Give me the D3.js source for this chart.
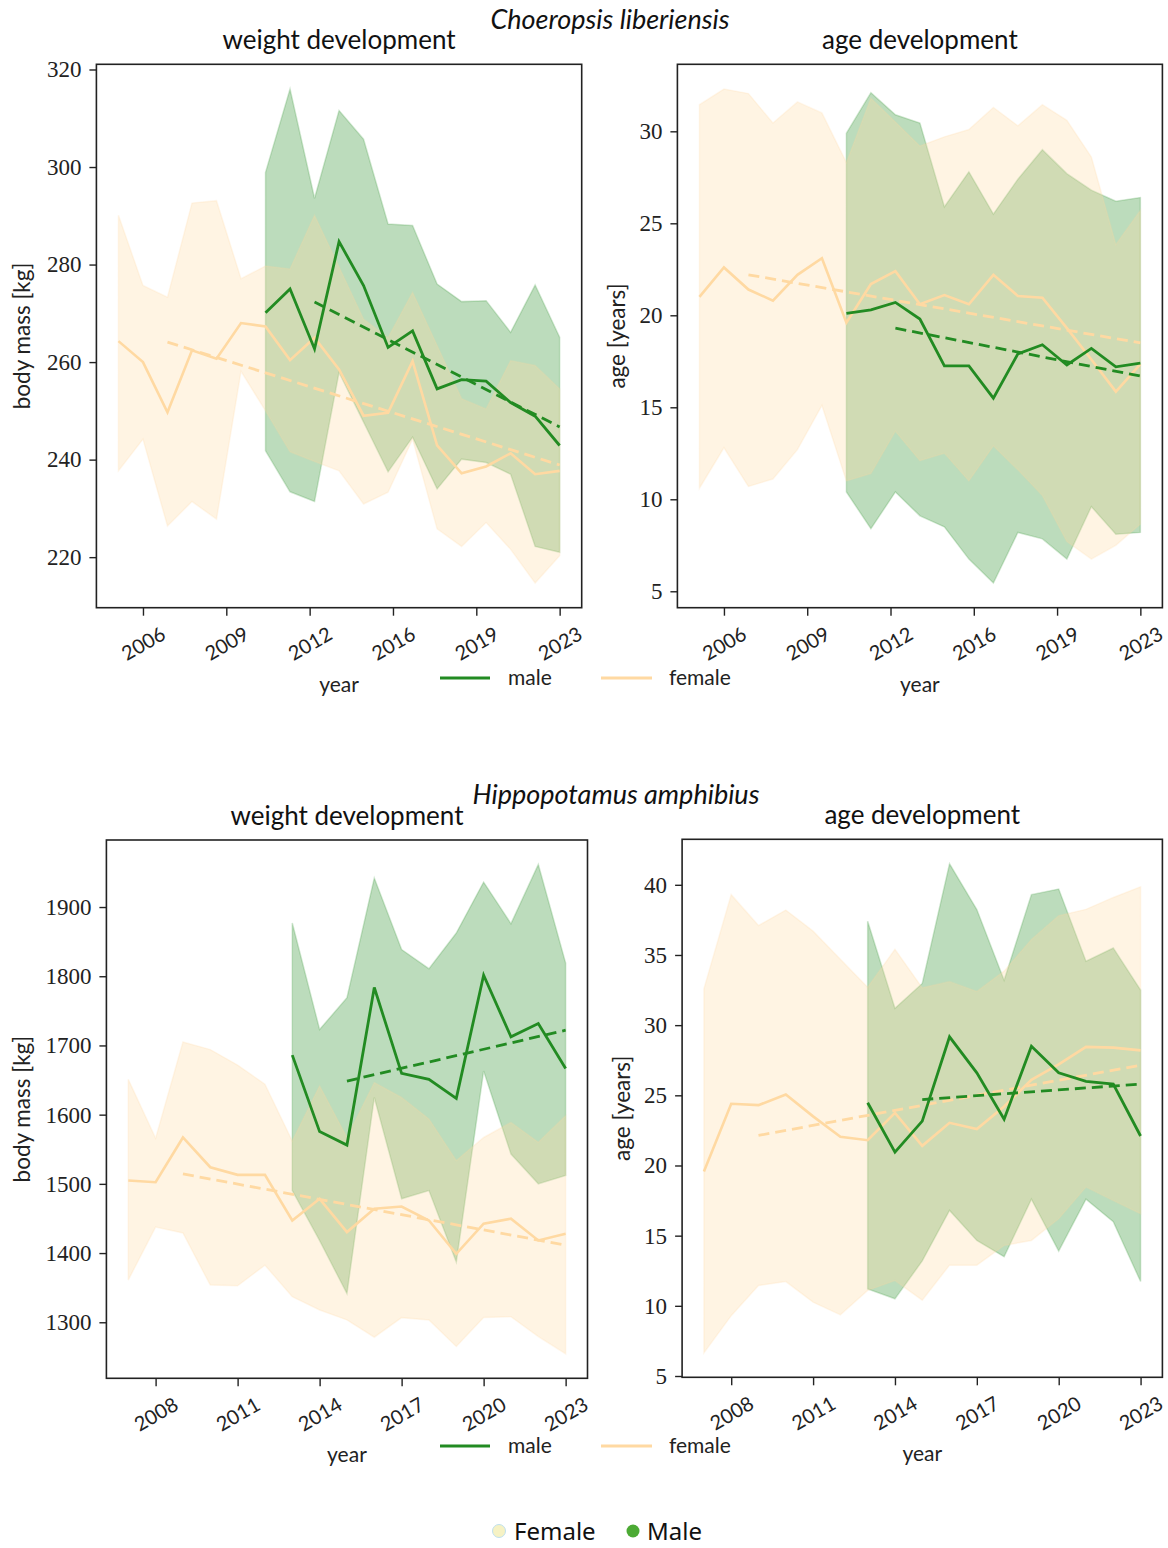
<!DOCTYPE html>
<html>
<head>
<meta charset="utf-8">
<script src="https://cdn.jsdelivr.net/npm/d3@7"></script>
<style>
  body { margin: 0; background: #fff; }
</style>
</head>
<body>
<div id="chart"></div>
<script>
var svgWidth = 1168;
var svgHeight = 1548;
var sansFont = "Lato, 'Open Sans', sans-serif";
var serifFont = "'Liberation Serif', 'DejaVu Serif', serif";

// ---- years ----
var choeYears = [2005, 2006, 2007, 2008, 2009, 2010, 2011, 2012, 2013, 2014, 2015, 2016, 2017, 2018, 2019, 2020, 2021, 2022, 2023];
var choeMaleYears = [2011, 2012, 2013, 2014, 2015, 2016, 2017, 2018, 2019, 2020, 2021, 2022, 2023];
var hippoYears = [2007, 2008, 2009, 2010, 2011, 2012, 2013, 2014, 2015, 2016, 2017, 2018, 2019, 2020, 2021, 2022, 2023];
var hippoMaleYears = [2013, 2014, 2015, 2016, 2017, 2018, 2019, 2020, 2021, 2022, 2023];

// ---- Choeropsis liberiensis, body mass ----
var choeWeightFemaleMean = [264.3, 260.0, 249.7, 262.4, 260.7, 268.0, 267.3, 260.4, 265.0, 258.5, 249.0, 249.6, 260.2, 242.9, 237.2, 238.6, 241.3, 237.0, 237.7];
var choeWeightFemaleUpper = [290.1, 275.7, 273.3, 292.6, 293.1, 277.1, 279.7, 279.1, 290.1, 279.5, 268.8, 265.0, 274.3, 263.4, 252.5, 250.4, 260.3, 259.3, 254.5];
var choeWeightFemaleLower = [237.7, 244.2, 226.4, 231.4, 227.8, 258.1, 250.0, 241.6, 239.6, 237.7, 230.9, 233.3, 244.2, 225.8, 222.2, 227.1, 221.6, 214.7, 220.3];
var choeWeightMaleMean = [270.1, 275.0, 262.7, 284.7, 275.7, 263.0, 266.4, 254.5, 256.4, 256.1, 251.7, 248.9, 242.9];
var choeWeightMaleUpper = [298.9, 316.0, 293.6, 311.6, 305.7, 288.3, 288.0, 276.0, 272.4, 272.6, 266.1, 275.8, 265.1];
var choeWeightMaleLower = [241.8, 233.4, 231.4, 257.9, 247.7, 237.5, 244.6, 234.0, 240.1, 239.4, 237.0, 222.2, 221.0];
var choeWeightFemaleTrend = [[2007, 264.1], [2023, 238.9]];
var choeWeightMaleTrend = [[2013, 272.3], [2023, 246.7]];

// ---- Choeropsis liberiensis, age ----
var choeAgeFemaleMean = [21.0, 22.6, 21.4, 20.8, 22.2, 23.1, 19.6, 21.7, 22.4, 20.6, 21.1, 20.6, 22.2, 21.05, 20.96, 19.3, 17.6, 15.85, 17.35];
var choeAgeFemaleUpper = [31.45, 32.3, 32.05, 30.45, 31.6, 31.0, 28.3, 31.8, 30.5, 29.2, 29.7, 30.1, 31.3, 30.3, 31.45, 30.6, 28.6, 23.85, 25.7];
var choeAgeFemaleLower = [10.6, 12.8, 10.7, 11.1, 12.7, 15.1, 11.0, 11.4, 13.7, 12.1, 12.5, 11.0, 12.9, 11.6, 10.2, 7.7, 6.75, 7.5, 8.65];
var choeAgeMaleMean = [20.1, 20.3, 20.7, 19.8, 17.25, 17.25, 15.5, 17.9, 18.4, 17.3, 18.2, 17.2, 17.4];
var choeAgeMaleUpper = [29.9, 32.1, 30.9, 30.45, 25.9, 27.8, 25.5, 27.4, 29.0, 27.7, 26.8, 26.2, 26.4];
var choeAgeMaleLower = [10.4, 8.4, 10.4, 9.1, 8.5, 6.75, 5.45, 8.2, 7.85, 6.75, 9.6, 8.1, 8.2];
var choeAgeFemaleTrend = [[2007, 22.2], [2023, 18.5]];
var choeAgeMaleTrend = [[2013, 19.3], [2023, 16.7]];

// ---- Hippopotamus amphibius, body mass ----
var hippoWeightFemaleMean = [1504.8, 1502.4, 1567.0, 1524.0, 1513.0, 1513.0, 1447.0, 1478.4, 1430.3, 1464.0, 1467.3, 1447.0, 1399.0, 1442.4, 1449.6, 1418.3, 1428.0];
var hippoWeightFemaleUpper = [1651.0, 1566.0, 1705.0, 1694.0, 1671.6, 1644.0, 1562.0, 1641.6, 1567.0, 1646.4, 1624.8, 1593.6, 1533.6, 1567.0, 1588.8, 1560.0, 1598.4];
var hippoWeightFemaleLower = [1361.0, 1437.6, 1429.0, 1353.7, 1352.8, 1382.5, 1337.0, 1317.8, 1303.4, 1278.4, 1306.7, 1303.4, 1265.0, 1307.0, 1308.0, 1279.4, 1254.4];
var hippoWeightMaleMean = [1686.0, 1575.5, 1556.0, 1783.7, 1659.6, 1651.0, 1623.6, 1801.4, 1712.5, 1731.7, 1666.8];
var hippoWeightMaleUpper = [1877.0, 1723.0, 1769.0, 1942.0, 1838.5, 1811.0, 1862.5, 1936.0, 1876.0, 1961.5, 1819.0];
var hippoWeightMaleLower = [1490.3, 1418.0, 1341.5, 1624.8, 1478.4, 1490.3, 1387.0, 1663.0, 1543.0, 1500.0, 1512.0];
var hippoWeightFemaleTrend = [[2009, 1514.4], [2023, 1411.3]];
var hippoWeightMaleTrend = [[2015, 1648.6], [2023, 1722.0]];

// ---- Hippopotamus amphibius, age ----
var hippoAgeFemaleMean = [19.57, 24.4, 24.3, 25.06, 23.5, 22.04, 21.8, 23.75, 21.4, 23.04, 22.6, 24.2, 26.1, 27.2, 28.45, 28.4, 28.2];
var hippoAgeFemaleUpper = [32.6, 39.3, 37.1, 38.2, 36.7, 34.7, 32.7, 35.4, 32.66, 33.1, 32.4, 33.85, 36.1, 37.8, 38.25, 39.1, 39.86];
var hippoAgeFemaleLower = [6.65, 9.3, 11.45, 11.73, 10.26, 9.36, 11.1, 11.8, 10.4, 12.9, 12.9, 14.3, 14.66, 16.2, 18.46, 17.5, 16.56];
var hippoAgeMaleMean = [24.47, 20.95, 23.16, 29.17, 26.6, 23.3, 28.5, 26.6, 26.0, 25.8, 22.1];
var hippoAgeMaleUpper = [37.4, 31.2, 32.97, 41.5, 38.24, 33.2, 39.3, 39.7, 34.56, 35.5, 32.5];
var hippoAgeMaleLower = [11.2, 10.5, 13.2, 16.8, 14.66, 13.5, 17.6, 13.9, 17.6, 16.0, 11.73];
var hippoAgeFemaleTrend = [[2009, 22.14], [2023, 27.15]];
var hippoAgeMaleTrend = [[2015, 24.7], [2023, 25.8]];

// ---- ticks ----
var choeXTicks = [2006, 2009.4, 2012.8, 2016.2, 2019.6, 2023];
var choeXTickLabels = ["2006", "2009", "2012", "2016", "2019", "2023"];
var hippoXTicks = [2008, 2011, 2014, 2017, 2020, 2023];
var hippoXTickLabels = ["2008", "2011", "2014", "2017", "2020", "2023"];
var choeWeightYTicks = [220, 240, 260, 280, 300, 320];
var choeAgeYTicks = [5, 10, 15, 20, 25, 30];
var hippoWeightYTicks = [1300, 1400, 1500, 1600, 1700, 1800, 1900];
var hippoAgeYTicks = [5, 10, 15, 20, 25, 30, 35, 40];

var maleColor = "#228b22";
var femaleColor = "#ffd9a2";

var svg = d3.select("#chart")
  .append("svg")
  .attr("width", svgWidth)
  .attr("height", svgHeight);

// zip years with values for the line / area generators
function zip(years, mean, lower, upper) {
  return years.map(function(yr, i) {
    return { year: yr, mean: mean[i], lo: lower[i], hi: upper[i] };
  });
}

function padDomain(lo, hi) {
  var pad = (hi - lo) * 0.05;
  return [lo - pad, hi + pad];
}

function drawPanel(p) {
  var width = p.right - p.left;
  var height = p.bottom - p.top;

  var female = zip(p.femaleYears, p.femaleMean, p.femaleLower, p.femaleUpper);
  var male = zip(p.maleYears, p.maleMean, p.maleLower, p.maleUpper);

  var xScale = d3.scaleLinear()
    .domain(padDomain(d3.min(p.femaleYears), d3.max(p.femaleYears)))
    .range([0, width]);

  var allVals = p.femaleLower.concat(p.femaleUpper, p.maleLower, p.maleUpper);
  var yScale = d3.scaleLinear()
    .domain(padDomain(d3.min(allVals), d3.max(allVals)))
    .range([height, 0]);

  var g = svg.append("g")
    .attr("transform", `translate(${p.left}, ${p.top})`);

  var area = d3.area()
    .x(d => xScale(d.year))
    .y0(d => yScale(d.lo))
    .y1(d => yScale(d.hi));

  var line = d3.line()
    .x(d => xScale(d.year))
    .y(d => yScale(d.mean));

  var trendLine = d3.line()
    .x(d => xScale(d[0]))
    .y(d => yScale(d[1]));

  // bands (female drawn above male, like the original)
  g.append("path")
    .datum(male)
    .attr("d", area)
    .attr("fill", maleColor)
    .attr("fill-opacity", 0.3)
    .attr("stroke", maleColor)
    .attr("stroke-opacity", 0.2)
    .attr("stroke-width", 1.5);

  g.append("path")
    .datum(female)
    .attr("d", area)
    .attr("fill", femaleColor)
    .attr("fill-opacity", 0.3)
    .attr("stroke", femaleColor)
    .attr("stroke-opacity", 0.2)
    .attr("stroke-width", 1.5);

  g.append("path")
    .datum(female)
    .attr("d", line)
    .attr("fill", "none")
    .attr("stroke", femaleColor)
    .attr("stroke-width", 2.6);

  g.append("path")
    .datum(p.femaleTrend)
    .attr("d", trendLine)
    .attr("fill", "none")
    .attr("stroke", femaleColor)
    .attr("stroke-width", 2.8)
    .attr("stroke-dasharray", "11,6");

  g.append("path")
    .datum(male)
    .attr("d", line)
    .attr("fill", "none")
    .attr("stroke", maleColor)
    .attr("stroke-width", 2.8);

  g.append("path")
    .datum(p.maleTrend)
    .attr("d", trendLine)
    .attr("fill", "none")
    .attr("stroke", maleColor)
    .attr("stroke-width", 2.8)
    .attr("stroke-dasharray", "11,6");

  // frame
  g.append("rect")
    .attr("width", width)
    .attr("height", height)
    .attr("fill", "none")
    .attr("stroke", "#222")
    .attr("stroke-width", 1.6);

  // y axis
  var yAxis = g.append("g")
    .call(d3.axisLeft(yScale).tickValues(p.yTicks).tickSize(7).tickPadding(8).tickFormat(d3.format("d")));
  yAxis.attr("font-family", serifFont).attr("font-size", 23);
  yAxis.select(".domain").remove();
  yAxis.selectAll("line").attr("stroke", "#222").attr("stroke-width", 1.4);
  yAxis.selectAll("text").attr("fill", "#222");

  // x axis with rotated labels
  var xAxis = g.append("g")
    .attr("transform", `translate(0, ${height})`)
    .call(d3.axisBottom(xScale).tickValues(p.xTicks).tickSize(8)
      .tickFormat((d, i) => p.xTickLabels[i]));
  xAxis.attr("font-family", sansFont).attr("font-size", 20);
  xAxis.select(".domain").remove();
  xAxis.selectAll("line").attr("stroke", "#222").attr("stroke-width", 1.4);
  xAxis.selectAll("text")
    .attr("fill", "#222")
    .attr("y", 0)
    .attr("dy", "0.35em")
    .attr("text-anchor", "middle")
    .attr("transform", "translate(0, 36) rotate(-30)");

  g.append("text")
    .attr("font-family", sansFont)
    .attr("x", width / 2)
    .attr("y", height + 84)
    .attr("text-anchor", "middle")
    .attr("font-size", 21)
    .attr("fill", "#222")
    .text("year");

  g.append("text")
    .attr("font-family", sansFont)
    .attr("transform", `translate(${p.yLabelX - p.left}, ${height / 2}) rotate(-90)`)
    .attr("text-anchor", "middle")
    .attr("dy", "0.35em")
    .attr("font-size", 22.5)
    .attr("fill", "#222")
    .text(p.yLabel);

  g.append("text")
    .attr("font-family", sansFont)
    .attr("x", width / 2)
    .attr("y", -15)
    .attr("text-anchor", "middle")
    .attr("font-size", 26)
    .attr("fill", "#111")
    .text(p.title);
}

function drawLegend(y) {
  var leg = svg.append("g").attr("font-family", sansFont).attr("font-size", 21);
  leg.append("line")
    .attr("x1", 440).attr("x2", 490).attr("y1", y).attr("y2", y)
    .attr("stroke", maleColor).attr("stroke-width", 3);
  leg.append("text")
    .attr("x", 508).attr("y", y).attr("dy", "0.32em")
    .attr("fill", "#222")
    .text("male");
  leg.append("line")
    .attr("x1", 601).attr("x2", 652).attr("y1", y).attr("y2", y)
    .attr("stroke", femaleColor).attr("stroke-width", 3);
  leg.append("text")
    .attr("x", 669).attr("y", y).attr("dy", "0.32em")
    .attr("fill", "#222")
    .text("female");
}

function speciesTitle(text, x, y) {
  svg.append("text")
    .attr("font-family", sansFont)
    .attr("x", x).attr("y", y)
    .attr("text-anchor", "middle")
    .attr("dy", "0.35em")
    .attr("font-size", 27)
    .attr("font-style", "italic")
    .attr("fill", "#111")
    .text(text);
}

speciesTitle("Choeropsis liberiensis", 610, 20);
speciesTitle("Hippopotamus amphibius", 616, 795);

drawPanel({
  left: 96.4, right: 581.7, top: 64.3, bottom: 607.7, yLabelX: 22,
  title: "weight development", yLabel: "body mass [kg]",
  femaleYears: choeYears, maleYears: choeMaleYears,
  femaleMean: choeWeightFemaleMean, femaleLower: choeWeightFemaleLower, femaleUpper: choeWeightFemaleUpper,
  maleMean: choeWeightMaleMean, maleLower: choeWeightMaleLower, maleUpper: choeWeightMaleUpper,
  femaleTrend: choeWeightFemaleTrend, maleTrend: choeWeightMaleTrend,
  xTicks: choeXTicks, xTickLabels: choeXTickLabels, yTicks: choeWeightYTicks
});

drawPanel({
  left: 677.4, right: 1162.4, top: 64.3, bottom: 607.7, yLabelX: 617,
  title: "age development", yLabel: "age [years]",
  femaleYears: choeYears, maleYears: choeMaleYears,
  femaleMean: choeAgeFemaleMean, femaleLower: choeAgeFemaleLower, femaleUpper: choeAgeFemaleUpper,
  maleMean: choeAgeMaleMean, maleLower: choeAgeMaleLower, maleUpper: choeAgeMaleUpper,
  femaleTrend: choeAgeFemaleTrend, maleTrend: choeAgeMaleTrend,
  xTicks: choeXTicks, xTickLabels: choeXTickLabels, yTicks: choeAgeYTicks
});

drawPanel({
  left: 106.4, right: 587.5, top: 840, bottom: 1378.3, yLabelX: 22,
  title: "weight development", yLabel: "body mass [kg]",
  femaleYears: hippoYears, maleYears: hippoMaleYears,
  femaleMean: hippoWeightFemaleMean, femaleLower: hippoWeightFemaleLower, femaleUpper: hippoWeightFemaleUpper,
  maleMean: hippoWeightMaleMean, maleLower: hippoWeightMaleLower, maleUpper: hippoWeightMaleUpper,
  femaleTrend: hippoWeightFemaleTrend, maleTrend: hippoWeightMaleTrend,
  xTicks: hippoXTicks, xTickLabels: hippoXTickLabels, yTicks: hippoWeightYTicks
});

drawPanel({
  left: 682.1, right: 1162.4, top: 839.3, bottom: 1377.3, yLabelX: 622,
  title: "age development", yLabel: "age [years]",
  femaleYears: hippoYears, maleYears: hippoMaleYears,
  femaleMean: hippoAgeFemaleMean, femaleLower: hippoAgeFemaleLower, femaleUpper: hippoAgeFemaleUpper,
  maleMean: hippoAgeMaleMean, maleLower: hippoAgeMaleLower, maleUpper: hippoAgeMaleUpper,
  femaleTrend: hippoAgeFemaleTrend, maleTrend: hippoAgeMaleTrend,
  xTicks: hippoXTicks, xTickLabels: hippoXTickLabels, yTicks: hippoAgeYTicks
});

drawLegend(678);
drawLegend(1446);

// overall legend at the bottom
var keyGroup = svg.append("g")
  .attr("font-family", "'Noto Sans', sans-serif")
  .attr("font-size", 24);
keyGroup.append("circle")
  .attr("cx", 499).attr("cy", 1531).attr("r", 6.5)
  .attr("fill", "#f6f2c4")
  .attr("stroke", "#bfe0ee").attr("stroke-width", 1);
keyGroup.append("text")
  .attr("x", 514).attr("y", 1532).attr("dy", "0.35em")
  .attr("fill", "#111")
  .text("Female");
keyGroup.append("circle")
  .attr("cx", 633).attr("cy", 1531).attr("r", 6.5)
  .attr("fill", "#4caa34");
keyGroup.append("text")
  .attr("x", 647).attr("y", 1532).attr("dy", "0.35em")
  .attr("fill", "#111")
  .text("Male");
</script>
</body>
</html>
